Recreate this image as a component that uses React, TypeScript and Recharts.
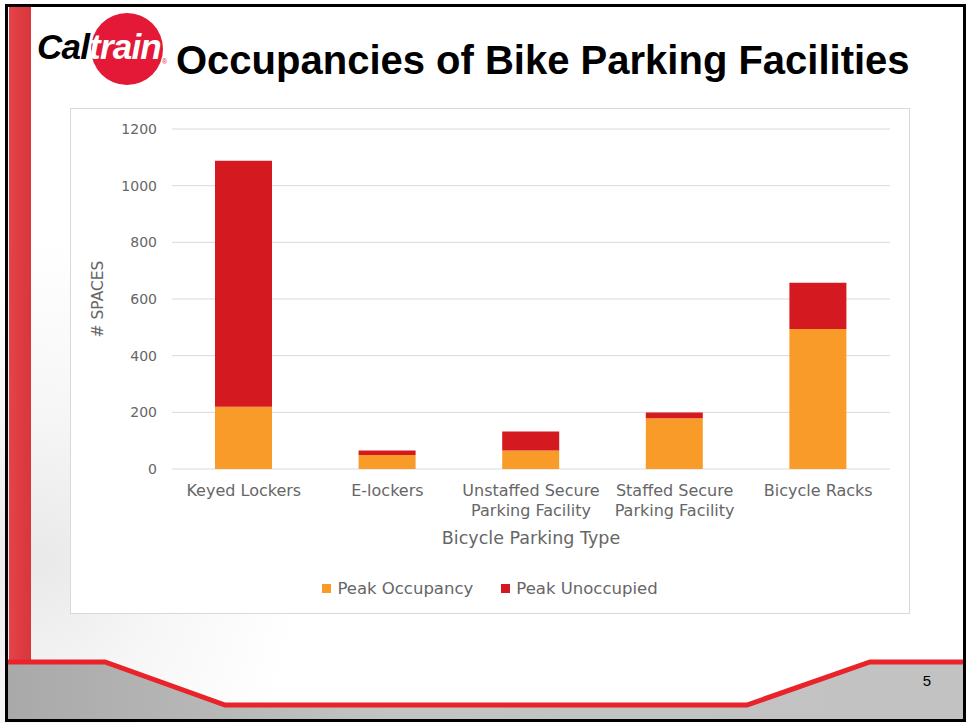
import React from "react";
import {
  BarChart,
  Bar,
  XAxis,
  YAxis,
  CartesianGrid,
  Legend,
} from "recharts";

const categories = [
  "Keyed Lockers",
  "E-lockers",
  "Unstaffed Secure Parking Facility",
  "Staffed Secure Parking Facility",
  "Bicycle Racks",
];
const peakOccupancy = [220, 49, 65, 179, 494];
const peakUnoccupied = [868, 16, 67, 20, 163];
const yTicks = [0, 200, 400, 600, 800, 1000, 1200];

const ORANGE = "#F99B28";
const RED = "#D51920";
const TEXT = "#666666";
const CHART_FONT = "'DejaVu Sans', sans-serif";

const data = categories.map((name, i) => ({
  name,
  occupancy: peakOccupancy[i],
  unoccupied: peakUnoccupied[i],
}));

// break long category names into lines of ~16 chars
function wrap(label: string, max = 16): string[] {
  const lines: string[] = [];
  let cur = "";
  for (const w of label.split(" ")) {
    const next = cur ? cur + " " + w : w;
    if (next.length > max && cur) {
      lines.push(cur);
      cur = w;
    } else {
      cur = next;
    }
  }
  if (cur) lines.push(cur);
  return lines;
}

function CategoryTick(props: any) {
  const { x, y, payload } = props;
  const lines = wrap(String(payload.value));
  return (
    <g transform={`translate(${x},${y})`}>
      <text
        textAnchor="middle"
        fill={TEXT}
        fontSize={16}
        fontFamily={CHART_FONT}
      >
        {lines.map((l, i) => (
          <tspan key={i} x={0} dy={i === 0 ? 19 : 20}>
            {l}
          </tspan>
        ))}
      </text>
    </g>
  );
}

function LegendBox() {
  const items = [
    { label: "Peak Occupancy", color: ORANGE },
    { label: "Peak Unoccupied", color: RED },
  ];
  return (
    <div
      style={{
        display: "flex",
        justifyContent: "center",
        gap: 28,
        fontFamily: CHART_FONT,
        fontSize: 16.5,
        color: TEXT,
      }}
    >
      {items.map((it) => (
        <div key={it.label} style={{ display: "flex", alignItems: "center" }}>
          <span
            style={{
              display: "inline-block",
              width: 9,
              height: 9,
              background: it.color,
              marginRight: 6,
            }}
          />
          {it.label}
        </div>
      ))}
    </div>
  );
}

export default function App() {
  return (
    <div
      style={{
        position: "absolute",
        left: 0,
        top: 0,
        width: 968,
        height: 723,
        background:
          "radial-gradient(ellipse 260px 320px at 40px 560px, #e9e9e9 0%, #f6f6f6 45%, #ffffff 100%)",
        overflow: "hidden",
      }}
    >
      <svg
        width={968}
        height={723}
        style={{ position: "absolute", left: 0, top: 0 }}
      >
        <defs>
          <linearGradient id="redbar" x1="0" x2="1" y1="0" y2="0">
            <stop offset="0" stopColor="#e5424a" />
            <stop offset="1" stopColor="#d8363c" />
          </linearGradient>
          <linearGradient id="grayfoot" x1="0" x2="1" y1="0" y2="0">
            <stop offset="0" stopColor="#a9a9a9" />
            <stop offset="0.4" stopColor="#c4c4c4" />
            <stop offset="1" stopColor="#c2c2c2" />
          </linearGradient>
        </defs>
        <rect x={9} y={6} width={22} height={658} fill="url(#redbar)" />
        <polygon
          points="8,662 105,662 225,705 747,705 870,662 964,662 964,721 8,721"
          fill="url(#grayfoot)"
        />
        <polyline
          points="8,662 105,662 225,705 747,705 870,662 964,662"
          fill="none"
          stroke="#e8232a"
          strokeWidth={5}
        />
        <rect
          x={6.5}
          y={5.5}
          width={958}
          height={715}
          fill="none"
          stroke="#000"
          strokeWidth={3}
        />
        {/* logo */}
        <circle cx={127} cy={49} r={36} fill="#e31937" />
        <text
          x={37}
          y={59}
          fontFamily="'Liberation Sans', Arial, sans-serif"
          fontWeight="bold"
          fontStyle="italic"
          fontSize={35}
          letterSpacing={-0.8}
        >
          <tspan fill="#000">Cal</tspan>
          <tspan fill="#fff">train</tspan>
        </text>
        <text
          x={162}
          y={64}
          fontFamily="'Liberation Sans', Arial, sans-serif"
          fontSize={7}
          fill="#e31937"
        >
          ®
        </text>
        <text
          x={176}
          y={74}
          fontFamily="'Liberation Sans', Arial, sans-serif"
          fontWeight="bold"
          fontSize={40}
          fill="#000"
        >
          Occupancies of Bike Parking Facilities
        </text>
        <text
          x={927}
          y={686}
          textAnchor="middle"
          fontFamily="'Liberation Sans', Arial, sans-serif"
          fontSize={15}
          fill="#000"
        >
          5
        </text>
      </svg>

      <div
        style={{
          position: "absolute",
          left: 70,
          top: 108,
          width: 840,
          height: 506,
          boxSizing: "border-box",
          border: "1px solid #d9d9d9",
          background: "#ffffff",
        }}
      >
        <BarChart
          width={838}
          height={504}
          data={data}
          margin={{ top: 20, right: 19, left: 10, bottom: 64 }}
        >
          <CartesianGrid vertical={false} stroke="#d9d9d9" />
          <XAxis
            dataKey="name"
            axisLine={false}
            tickLine={false}
            height={80}
            interval={0}
            tick={<CategoryTick />}
            label={{
              value: "Bicycle Parking Type",
              position: "insideBottom",
              offset: 5,
              fill: TEXT,
              fontSize: 17.5,
              fontFamily: CHART_FONT,
            }}
          />
          <YAxis
            width={91}
            domain={[0, 1200]}
            ticks={yTicks}
            axisLine={false}
            tickLine={false}
            tickMargin={9}
            tick={{ fill: TEXT, fontSize: 14, fontFamily: CHART_FONT }}
            label={{
              value: "# SPACES",
              angle: -90,
              position: "center",
              dx: -29,
              fill: TEXT,
              fontSize: 15.5,
              fontFamily: CHART_FONT,
            }}
          />
          <Legend
            verticalAlign="middle"
            align="center"
            content={<LegendBox />}
            wrapperStyle={{ top: 470, left: 0, width: 838 }}
          />
          <Bar
            dataKey="occupancy"
            name="Peak Occupancy"
            stackId="a"
            fill={ORANGE}
            barSize={57}
            isAnimationActive={false}
          />
          <Bar
            dataKey="unoccupied"
            name="Peak Unoccupied"
            stackId="a"
            fill={RED}
            barSize={57}
            isAnimationActive={false}
          />
        </BarChart>
      </div>
    </div>
  );
}
